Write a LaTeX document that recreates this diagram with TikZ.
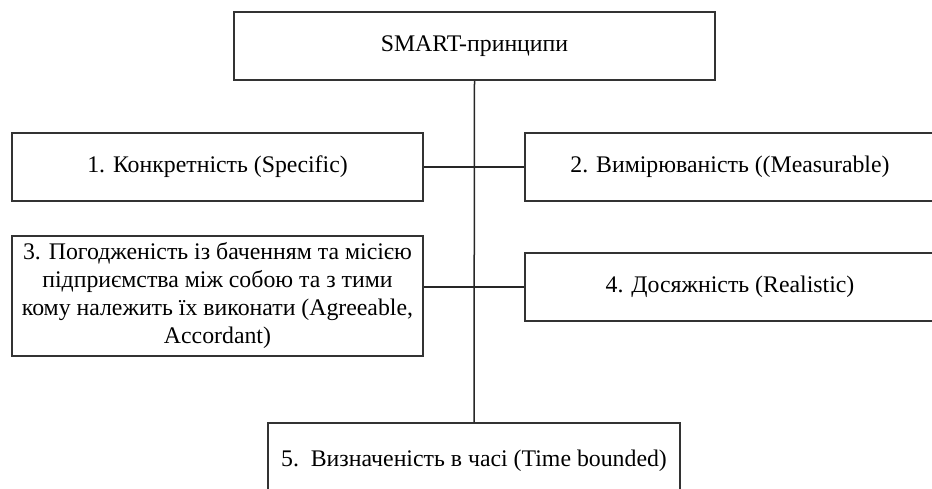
\documentclass[tikz,border=0pt]{standalone}
\usepackage{fontspec}
\setmainfont{Liberation Serif}
\begin{document}
\begin{tikzpicture}[x=1pt,y=-1pt,
  box/.style={draw=black!80,line width=1.5pt,fill=white,inner sep=0pt,align=center,
    font=\fontsize{23.8}{28}\selectfont},
  link/.style={draw=black!85,line width=1.5pt}]
\useasboundingbox (0,0) rectangle (932,488);
\node[box,minimum width=481,minimum height=68] (top) at (474.5,46) {SMART-принципи};
\node[box,minimum width=411,minimum height=68] (b1) at (217.5,167) {1. Конкретність (Specific)};
\node[box,minimum width=411,minimum height=120] (b3) at (217.5,296)
  {3. Погодженість із баченням та місією\\підприємства між собою та з тими\\кому належить їх виконати (Agreeable,\\Accordant)};
\node[box,minimum width=410,minimum height=68] (b2) at (730,167) {2. Вимірюваність ((Measurable)};
\node[box,minimum width=410,minimum height=68] (b4) at (730,287) {4. Досяжність (Realistic)};
\node[box,minimum width=412,minimum height=90,text depth=0pt] (b5) at (474,468) {};
\node[font=\fontsize{23.8}{28}\selectfont,anchor=base] (t5) at (474,466) {5.\ \ Визначеність в часі (Time bounded)};
\coordinate (c1) at (474,167);
\coordinate (c4) at (474,287);
\draw[link] (top.south) -- (b5.north);
\draw[link] (b1.east) -- (c1) -- (b2.west);
\draw[link] (b3.east |- c4) -- (c4) -- (b4.west);
\end{tikzpicture}
\end{document}
